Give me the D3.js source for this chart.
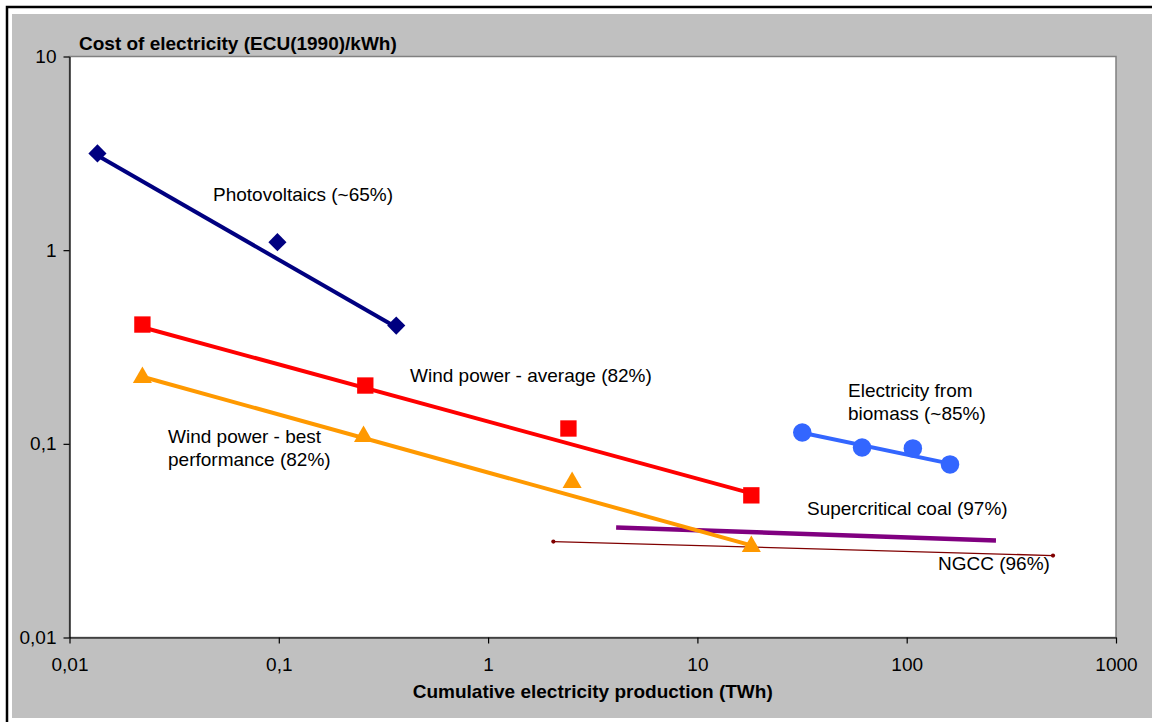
<!DOCTYPE html>
<html lang="en">
  <head>
    <meta charset="utf-8">
    <script src="https://cdn.jsdelivr.net/npm/d3@7"></script>
    <title>Experience curves</title>
    <style>
      body { margin: 0; background: #fff; }
      svg text { font-family: "Liberation Sans", Arial, sans-serif; }
    </style>
  </head>
  <body>
    <div id="chart"></div>
    <script type="text/javascript">
      // axis ticks (decimal comma as in the original)
      var xTicks = [0.01, 0.1, 1, 10, 100, 1000];
      var xTickLabels = ["0,01", "0,1", "1", "10", "100", "1000"];
      var yTicks = [0.01, 0.1, 1, 10];
      var yTickLabels = ["0,01", "0,1", "1", "10"];

      // Photovoltaics
      var pvX = [0.0136, 0.0985, 0.364];
      var pvY = [3.16, 1.10, 0.408];
      var pvTrendX = [0.0136, 0.364];
      var pvTrendY = [3.08, 0.40];

      // Wind power - average
      var windAvgX = [0.0223, 0.259, 2.42, 18.1];
      var windAvgY = [0.413, 0.200, 0.120, 0.0542];
      var windAvgTrendX = [0.0223, 18.1];
      var windAvgTrendY = [0.40, 0.0555];

      // Wind power - best performance
      var windBestX = [0.0223, 0.254, 2.52, 18.1];
      var windBestY = [0.220, 0.109, 0.0632, 0.0295];
      var windBestTrendX = [0.0223, 18.1];
      var windBestTrendY = [0.222, 0.0299];

      // Electricity from biomass
      var bioX = [31.7, 61.2, 107, 161];
      var bioY = [0.1145, 0.0958, 0.0947, 0.0783];
      var bioTrendX = [31.7, 161];
      var bioTrendY = [0.114, 0.079];

      // Supercritical coal
      var coalX = [4.09, 267];
      var coalY = [0.0370, 0.0317];

      // NGCC
      var ngccX = [2.05, 500];
      var ngccY = [0.0313, 0.0265];

      var W = 1152, H = 722;
      // plot box (window.top is read-only, so no bare "top" here)
      var plot = { left: 69.5, right: 1116, top: 56.5, bottom: 637.5 };

      var svg = d3.select("#chart").append("svg")
          .attr("width", W)
          .attr("height", H);

      // outer frame (cropped on the right and bottom)
      svg.append("rect")
          .attr("x", 12).attr("y", 14)
          .attr("width", W).attr("height", 704)
          .style("fill", "#c0c0c0");
      svg.append("path")
          .attr("d", "M7," + H + "V7H" + W)
          .style("fill", "none")
          .style("stroke", "#000")
          .style("stroke-width", 2.5);

      // plot area
      svg.append("rect")
          .attr("x", plot.left).attr("y", plot.top)
          .attr("width", plot.right - plot.left).attr("height", plot.bottom - plot.top)
          .style("fill", "#fff")
          .style("stroke", "#808080")
          .style("stroke-width", 1.5);

      var x = d3.scaleLog().domain([0.01, 1000]).range([plot.left, plot.right]);
      var y = d3.scaleLog().domain([0.01, 10]).range([plot.bottom, plot.top]);

      var xAxis = svg.append("g")
          .attr("transform", "translate(0," + plot.bottom + ")")
          .call(d3.axisBottom(x).tickValues(xTicks)
              .tickFormat(function (d, i) { return xTickLabels[i]; })
              .tickSizeInner(6).tickSizeOuter(0).tickPadding(14));
      var yAxis = svg.append("g")
          .attr("transform", "translate(" + plot.left + ",0)")
          .call(d3.axisLeft(y).tickValues(yTicks)
              .tickFormat(function (d, i) { return yTickLabels[i]; })
              .tickSizeInner(6).tickSizeOuter(0).tickPadding(7));

      [xAxis, yAxis].forEach(function (a) {
        a.selectAll("path, line").style("stroke", "#000").style("stroke-width", 1.2);
        a.selectAll("text")
            .style("font-family", '"Liberation Sans", Arial, sans-serif')
            .style("font-size", "19px")
            .style("fill", "#000");
      });

      // axis titles
      svg.append("text")
          .attr("x", 79).attr("y", 50)
          .style("font-size", "19px")
          .style("font-weight", "bold")
          .text("Cost of electricity (ECU(1990)/kWh)");
      svg.append("text")
          .attr("x", (plot.left + plot.right) / 2).attr("y", 698)
          .style("text-anchor", "middle")
          .style("font-size", "19px")
          .style("font-weight", "bold")
          .text("Cumulative electricity production (TWh)");

      var line = d3.line()
          .x(function (d) { return x(d[0]); })
          .y(function (d) { return y(d[1]); });

      function pairs(xs, ys) {
        return xs.map(function (v, i) { return [v, ys[i]]; });
      }

      function drawLine(xs, ys, color, width) {
        svg.append("path")
            .datum(pairs(xs, ys))
            .attr("d", line)
            .style("fill", "none")
            .style("stroke", color)
            .style("stroke-width", width);
      }

      function drawMarkers(xs, ys, shape, size, color) {
        svg.append("g").selectAll("path")
            .data(pairs(xs, ys))
            .enter().append("path")
            .attr("transform", function (d) {
              return "translate(" + x(d[0]) + "," + y(d[1]) + ")";
            })
            .attr("d", d3.symbol().type(shape).size(size))
            .style("fill", color);
      }

      // lines first, markers on top
      drawLine(ngccX, ngccY, "#800000", 1.3);
      drawMarkers(ngccX, ngccY, d3.symbolCircle, 14, "#800000");
      drawLine(coalX, coalY, "#800080", 4.5);

      drawLine(pvTrendX, pvTrendY, "#000080", 4);
      drawMarkers(pvX, pvY, d3.symbolDiamond2, 210, "#000080");

      drawLine(windAvgTrendX, windAvgTrendY, "#ff0000", 4);
      drawMarkers(windAvgX, windAvgY, d3.symbolSquare2, 340, "#ff0000");

      drawLine(windBestTrendX, windBestTrendY, "#ff9900", 4);
      drawMarkers(windBestX, windBestY, d3.symbolTriangle2, 260, "#ff9900");

      drawLine(bioTrendX, bioTrendY, "#3366ff", 4);
      drawMarkers(bioX, bioY, d3.symbolCircle, 270, "#3366ff");

      // series labels
      var labels = [
        { lines: ["Photovoltaics (~65%)"], x: 213, y: 201 },
        { lines: ["Wind power - average (82%)"], x: 410, y: 382 },
        { lines: ["Wind power - best", "performance (82%)"], x: 168, y: 443 },
        { lines: ["Electricity from", "biomass (~85%)"], x: 848, y: 397 },
        { lines: ["Supercritical coal (97%)"], x: 807, y: 515 },
        { lines: ["NGCC (96%)"], x: 938, y: 570 }
      ];
      labels.forEach(function (l) {
        var t = svg.append("text")
            .attr("x", l.x).attr("y", l.y)
            .style("font-size", "19px")
            .style("fill", "#000");
        l.lines.forEach(function (s, i) {
          t.append("tspan")
              .attr("x", l.x)
              .attr("dy", i === 0 ? 0 : 23)
              .text(s);
        });
      });
    </script>
  </body>
</html>
